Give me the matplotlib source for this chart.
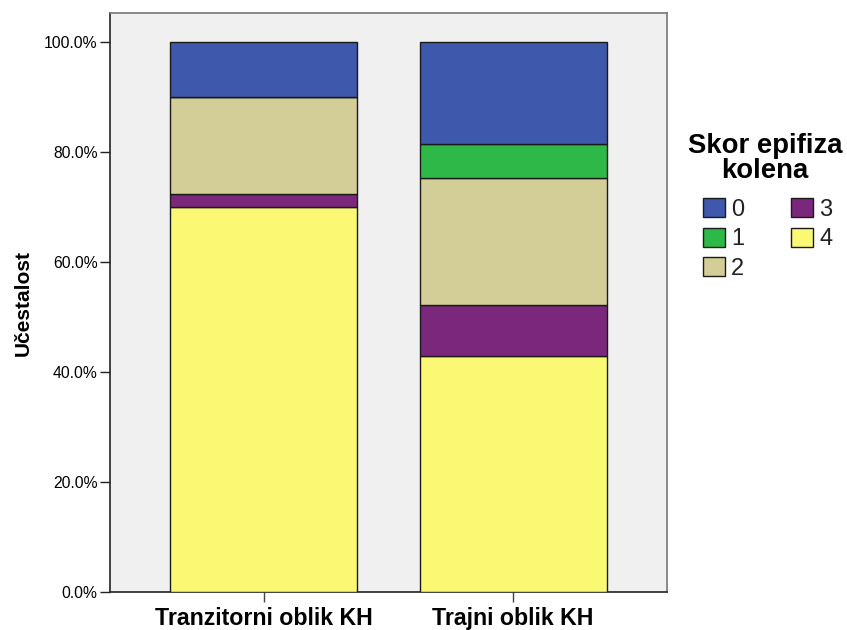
import matplotlib
matplotlib.use("Agg")
import matplotlib.pyplot as plt
from matplotlib.ticker import FuncFormatter

plt.rcParams['font.family'] = ['Liberation Sans', 'DejaVu Sans']

categories = ["Tranzitorni oblik KH", "Trajni oblik KH"]
score_labels = ["0", "1", "2", "3", "4"]
# percentage of each score within a group
pct_0 = [10.0, 18.5]
pct_1 = [0.0, 6.2]
pct_2 = [17.5, 23.1]
pct_3 = [2.5, 9.2]
pct_4 = [70.0, 43.0]

colors = {"0": "#3E58AC", "1": "#2EB848", "2": "#D3CE97", "3": "#7B287C", "4": "#FBF873"}

W, H = 847, 630
fig = plt.figure(figsize=(W / 100, H / 100), dpi=100)
ax = fig.add_axes([0.1299, 0.0598, 0.787 - 0.1299, 0.9798 - 0.0598])
ax.set_facecolor("#F0F0F0")

x = list(range(len(categories)))
stack_order = [("4", pct_4), ("3", pct_3), ("2", pct_2), ("1", pct_1), ("0", pct_0)]
bottom = [0.0] * len(categories)
handles = {}
for lab, vals in stack_order:
    bars = ax.bar(x, vals, width=0.75, bottom=bottom, color=colors[lab],
                  edgecolor="#1a1a1a", linewidth=1.0, zorder=3)
    handles[lab] = bars
    bottom = [b + v for b, v in zip(bottom, vals)]

ax.set_xlim(-0.615, 1.615)
ax.set_ylim(0, 105.4)
ax.set_yticks([0, 20, 40, 60, 80, 100])
ax.yaxis.set_major_formatter(FuncFormatter(lambda v, p: f"{v:.1f}%"))
ax.set_xticks(x)
ax.set_xticklabels(categories, fontsize=16.7, fontweight="bold")
ax.tick_params(axis="y", labelsize=11.3, length=7.5, width=1, color="#222222", pad=1.5)
ax.tick_params(axis="x", length=7.5, width=1, color="#444444", pad=3)

for side in ["top", "right"]:
    ax.spines[side].set_color("#777777")
    ax.spines[side].set_linewidth(1.2)
for side in ["left", "bottom"]:
    ax.spines[side].set_color("#222222")
    ax.spines[side].set_linewidth(1.2)

ax.set_ylabel("Učestalost", fontsize=15, fontweight="bold", labelpad=8)

# legend heading, centred over the two columns of swatches
fig.text(765 / W, 1 - 133 / H, "Skor epifiza\nkolena", ha="center", va="top",
         multialignment="center", fontsize=19.8, fontweight="bold", linespacing=0.95)

leg = fig.legend([handles[l] for l in score_labels], score_labels,
                 ncol=2, loc="upper left", bbox_to_anchor=(703 / W, 1 - 198 / H),
                 frameon=False, fontsize=17, handlelength=0.93, handleheight=0.85,
                 handletextpad=0.25, columnspacing=2.0, labelspacing=0.30,
                 borderpad=0, borderaxespad=0)
for t in leg.get_texts():
    t.set_color("#222222")

fig.savefig("out.png", dpi=100)
